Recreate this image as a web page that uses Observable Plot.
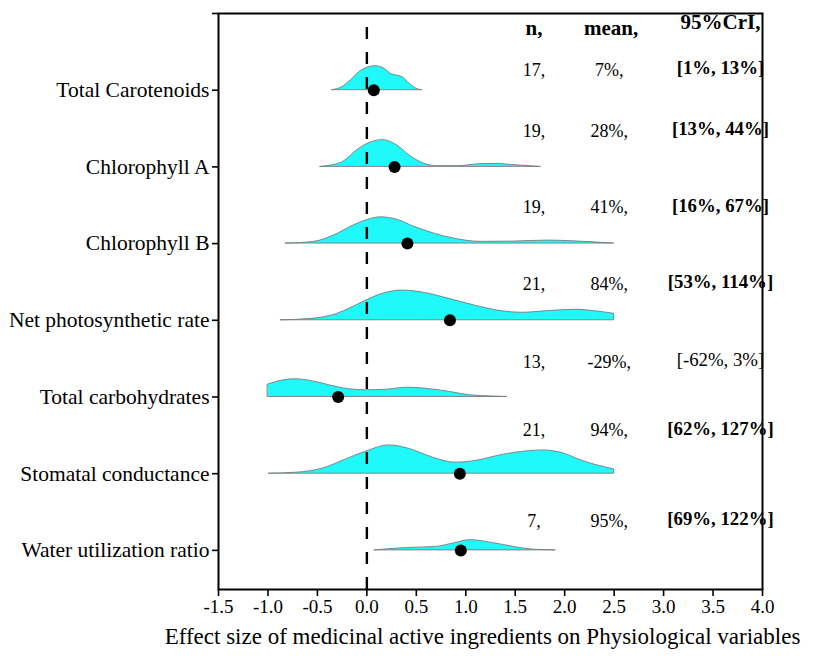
<!DOCTYPE html>
<html>
<head>
<meta charset="utf-8">
<script src="https://cdn.jsdelivr.net/npm/d3@7"></script>
<script src="https://cdn.jsdelivr.net/npm/@observablehq/plot@0.6"></script>
<style>
  html, body { margin: 0; padding: 0; background: #fff; }
  #chart svg { font-family: "Liberation Serif", "Times New Roman", serif; }
</style>
</head>
<body>
<div id="chart"></div>
<script>
// ---------- data ----------
const categories = [
  "Total Carotenoids", "Chlorophyll A", "Chlorophyll B", "Net photosynthetic rate",
  "Total carbohydrates", "Stomatal conductance", "Water utilization ratio"
];
const nValues = [17, 19, 19, 21, 13, 21, 7];
const meanValues = [0.07, 0.28, 0.41, 0.84, -0.29, 0.94, 0.95];
const meanPct = [7, 28, 41, 84, -29, 94, 95];
const criLow = [1, 13, 16, 53, -62, 62, 69];
const criHigh = [13, 44, 67, 114, 3, 127, 122];
const xTicks = [-1.5, -1.0, -0.5, 0.0, 0.5, 1.0, 1.5, 2.0, 2.5, 3.0, 3.5, 4.0];
const headers = ["n,", "mean,", "95%CrI,"];
const xTitle = "Effect size of medicinal active ingredients on Physiological variables";

// density outlines: [effect size, relative density]
const densTotalCarotenoids = [[-0.35,0],[-0.25,0.12],[-0.16,0.40],[-0.06,0.77],[0.09,0.96],[0.18,0.85],[0.24,0.66],[0.31,0.58],[0.36,0.52],[0.43,0.27],[0.51,0.04],[0.56,0]];
const densChlorophyllA = [[-0.47,0],[-0.26,0.16],[-0.09,0.69],[0.01,0.93],[0.16,1.07],[0.31,0.85],[0.44,0.43],[0.58,0.13],[0.71,0.03],[0.92,0.03],[1.15,0.11],[1.29,0.12],[1.46,0.08],[1.76,0]];
const densChlorophyllB = [[-0.82,0],[-0.53,0.07],[-0.33,0.33],[-0.13,0.73],[0.01,0.95],[0.14,1.05],[0.31,0.95],[0.48,0.67],[0.68,0.40],[0.88,0.20],[1.15,0.07],[1.49,0.08],[1.83,0.12],[2.09,0.09],[2.5,0]];
const densNetPhoto = [[-0.87,0],[-0.58,0.05],[-0.31,0.24],[-0.15,0.51],[0.01,0.82],[0.16,1.06],[0.36,1.19],[0.56,1.11],[0.83,0.86],[1.10,0.58],[1.37,0.36],[1.57,0.30],[1.84,0.37],[2.11,0.42],[2.31,0.36],[2.5,0.26]];
const densCarbohydrates = [[-1.0,0.49],[-0.85,0.66],[-0.73,0.71],[-0.58,0.65],[-0.38,0.47],[-0.18,0.31],[-0.01,0.27],[0.2,0.29],[0.4,0.37],[0.6,0.33],[0.84,0.2],[1.04,0.07],[1.27,0.02],[1.42,0]];
const densStomatal = [[-0.99,0],[-0.71,0.04],[-0.44,0.21],[-0.21,0.57],[-0.01,0.88],[0.23,1.13],[0.43,0.99],[0.67,0.64],[0.9,0.44],[1.1,0.51],[1.37,0.75],[1.64,0.9],[1.78,0.93],[1.98,0.82],[2.18,0.51],[2.5,0.17]];
const densWater = [[0.08,0],[0.38,0.09],[0.70,0.14],[0.88,0.28],[1.05,0.41],[1.25,0.31],[1.50,0.13],[1.68,0.03],[1.91,0]];
const densities = [densTotalCarotenoids, densChlorophyllA, densChlorophyllB, densNetPhoto, densCarbohydrates, densStomatal, densWater];

// ---------- layout ----------
const ridgeScale = 0.326;              // row units per density unit
const textLift = [20, 36, 36, 36, 35, 43, 29]; // px above each row baseline
const colN = 1.69, colMean = 2.45, colCri = 3.575;
const rowOf = i => categories.length - i;

const ridgeData = densities.flatMap((pts, i) =>
  pts.map(([x, d]) => ({cat: categories[i], x, y1: rowOf(i), y2: rowOf(i) + d * ridgeScale})));
const dotData = categories.map((c, i) => ({cat: c, x: meanValues[i], y: rowOf(i)}));

const rowText = categories.flatMap((c, i) => {
  const sig = criLow[i] > 0 || criHigh[i] < 0;
  const y = rowOf(i);
  return [
    Plot.text([0], {x: () => colN, y: () => y, text: () => `${nValues[i]},`, dy: -textLift[i], fontSize: 18, textAnchor: "middle"}),
    Plot.text([0], {x: () => colMean, y: () => y, text: () => `${meanPct[i]}%,`, dy: -textLift[i], fontSize: 18, textAnchor: "middle"}),
    Plot.text([0], {x: () => colCri, y: () => y, text: () => `[${criLow[i]}%, ${criHigh[i]}%]`, dy: -textLift[i] - 2, fontSize: 18.8, textAnchor: "middle", fontWeight: sig ? "bold" : "normal"})
  ];
});

const yTickFormat = d => (d >= 1 && d <= categories.length) ? categories[categories.length - d] : "";

const chart = Plot.plot({
  width: 814,
  height: 656,
  marginLeft: 218,
  marginRight: 52,
  marginTop: 13,
  marginBottom: 67,
  style: {fontFamily: "Liberation Serif", fontSize: "19px", color: "black", background: "white"},
  x: {domain: [-1.5, 4.0]},
  y: {domain: [0.49, 8]},
  marks: [
    Plot.areaY(ridgeData, {x: "x", y1: "y1", y2: "y2", z: "cat", fill: "#1ff9f9", stroke: "#7a7a7a", strokeWidth: 0.9, curve: "monotone-x"}),
    Plot.ruleX([0], {y1: 0.49, y2: 7.9, stroke: "black", strokeWidth: 2.4, strokeDasharray: "12,13"}),
    Plot.dot(dotData, {x: "x", y: "y", r: 6, fill: "black", stroke: "none"}),
    Plot.frame({stroke: "black", strokeWidth: 2}),
    Plot.axisX({ticks: xTicks, tickFormat: d => d.toFixed(1), tickSize: 7, tickPadding: 3, fontSize: 19, strokeWidth: 1.6, label: null}),
    Plot.axisY({ticks: [1, 2, 3, 4, 5, 6, 7, 8], tickFormat: yTickFormat, tickSize: 6, tickPadding: 3, fontSize: 21.5, strokeWidth: 1.6, label: null}),
    Plot.text([0], {x: () => colN, y: () => 8, text: () => headers[0], dy: 15, fontSize: 21, fontWeight: "bold", textAnchor: "middle"}),
    Plot.text([0], {x: () => colMean + 0.02, y: () => 8, text: () => headers[1], dy: 15, fontSize: 21, fontWeight: "bold", textAnchor: "middle"}),
    Plot.text([0], {x: () => colCri, y: () => 8, text: () => headers[2], dy: 9, fontSize: 21, fontWeight: "bold", textAnchor: "middle"}),
    ...rowText,
    Plot.text([xTitle], {frameAnchor: "bottom", dy: 54, dx: -8, fontSize: 23})
  ]
});
document.getElementById("chart").append(chart);
</script>
</body>
</html>
